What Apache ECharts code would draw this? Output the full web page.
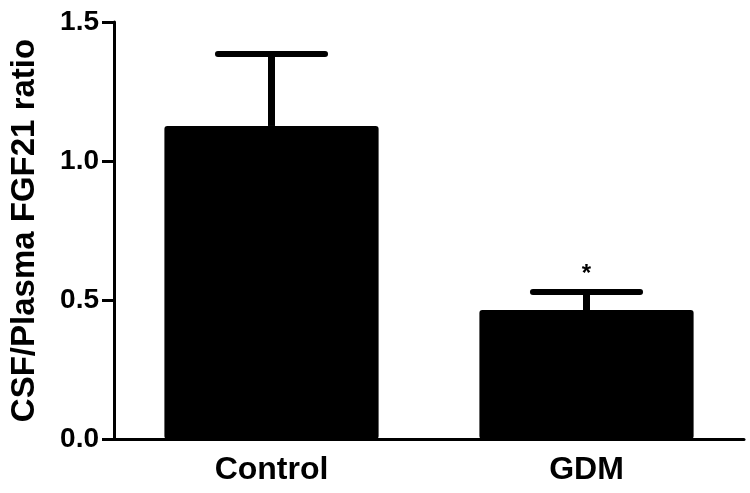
<!DOCTYPE html>
<html>
<head>
<meta charset="utf-8">
<script src="https://cdn.jsdelivr.net/npm/echarts@6/dist/echarts.min.js"></script>
<style>
  html, body { margin: 0; padding: 0; background: #ffffff; }
  #chart { width: 750px; height: 493px; }
</style>
</head>
<body>
<div id="chart"></div>
<script>
const categories = ['Control', 'GDM']
const means = [1.126, 0.464]
const errHigh = [1.385, 0.529]
const sigMarks = ['', '*']
const yTicks = [0, 0.5, 1.0, 1.5]

const chart = echarts.init(document.getElementById('chart'))

const fontFamily = '"Liberation Sans", Arial, Helvetica, sans-serif'

// error bars + significance mark, drawn from the axis scales
const errData = categories.map((c, i) => [i, means[i], errHigh[i], sigMarks[i]])

const renderErr = (params, api) => {
  const idx = api.value(0)
  const x = api.coord([idx, 0])[0]
  const yMean = api.coord([idx, api.value(1)])[1]
  const yHi = api.coord([idx, api.value(2)])[1]
  const capW = api.size([1, 0])[0] * 0.34
  const mark = sigMarks[idx]
  const children = [
    {
      type: 'line',
      shape: { x1: x, y1: yMean, x2: x, y2: yHi },
      style: { stroke: '#000', lineWidth: 7 }
    },
    {
      type: 'line',
      shape: { x1: x - capW / 2, y1: yHi, x2: x + capW / 2, y2: yHi },
      style: { stroke: '#000', lineWidth: 6, lineCap: 'round' }
    }
  ]
  if (mark) {
    children.push({
      type: 'text',
      x: x,
      y: yHi - 6,
      style: {
        text: mark,
        fill: '#000',
        font: 'bold 24px ' + fontFamily,
        align: 'center',
        verticalAlign: 'bottom'
      }
    })
  }
  return { type: 'group', children }
}

const option = {
  backgroundColor: '#ffffff',
  animation: false,
  grid: {
    left: 112,
    right: 6,
    top: 22,
    bottom: 54
  },
  xAxis: {
    type: 'category',
    data: categories,
    axisLine: { lineStyle: { color: '#000', width: 3 } },
    axisTick: { alignWithLabel: true, length: 12, lineStyle: { color: '#000', width: 3 } },
    axisLabel: {
      color: '#000',
      fontSize: 32,
      fontWeight: 'bold',
      fontFamily: fontFamily,
      margin: 15
    }
  },
  yAxis: {
    type: 'value',
    min: yTicks[0],
    max: yTicks[yTicks.length - 1],
    interval: 0.5,
    name: 'CSF/Plasma FGF21 ratio',
    nameLocation: 'middle',
    nameGap: 73,
    nameTextStyle: {
      color: '#000',
      fontSize: 33,
      fontWeight: 'bold',
      fontFamily: fontFamily
    },
    axisLine: { show: true, lineStyle: { color: '#000', width: 3 } },
    axisTick: { show: true, length: 12, lineStyle: { color: '#000', width: 3 } },
    axisLabel: {
      color: '#000',
      fontSize: 28,
      fontWeight: 'bold',
      fontFamily: fontFamily,
      margin: 15,
      formatter: (v) => v.toFixed(1)
    },
    splitLine: { show: false }
  },
  series: [
    {
      type: 'bar',
      data: means,
      barWidth: '68%',
      itemStyle: { color: '#000', borderRadius: 3 },
      z: 2
    },
    {
      type: 'custom',
      data: errData,
      renderItem: renderErr,
      encode: { x: 0, y: [1, 2] },
      z: 3
    }
  ]
}

chart.setOption(option)
</script>
</body>
</html>
